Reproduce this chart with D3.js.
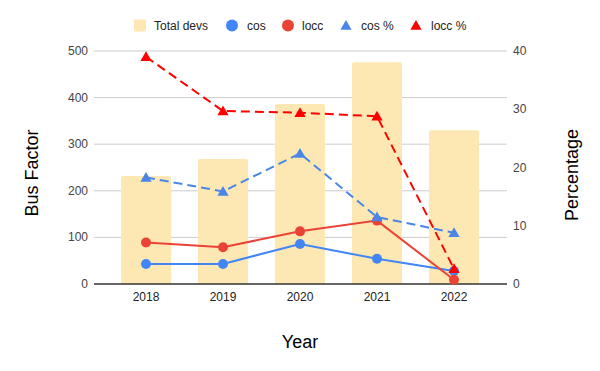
<!DOCTYPE html>
<html>
<head>
<meta charset="utf-8">
<script src="https://cdn.jsdelivr.net/npm/d3@7"></script>
<style>
  body { margin: 0; background: #fff; }
  svg { display: block; font-family: Arial, "Liberation Sans", sans-serif; }
</style>
</head>
<body>
<svg id="chart" width="600" height="371"></svg>
<script>
// ── Data ───────────────────────────────────────────────────
const years = ['2018', '2019', '2020', '2021', '2022'];
const totalDevs = [232, 268, 386, 476, 330];
const cos = [43, 43, 86, 54, 28];
const locc = [89, 79, 113, 136, 9];
const cosPct = [18.3, 15.9, 22.4, 11.5, 8.8];
const loccPct = [39.0, 29.7, 29.4, 28.8, 2.6];
const leftTicks = [0, 100, 200, 300, 400, 500];
const rightTicks = [0, 10, 20, 30, 40];

// ── Layout ─────────────────────────────────────────────────
const svg = d3.select('#chart');
const area = { left: 94, right: 507, top: 51, bottom: 284 };

const x = d3.scaleBand()
  .domain(years)
  .range([107.5, 492.5])
  .paddingInner(0.35)
  .paddingOuter(0.175);
const cx = d => x(d) + x.bandwidth() / 2;

const yL = d3.scaleLinear().domain([0, 500]).range([area.bottom, area.top]);
const yR = d3.scaleLinear().domain([0, 40]).range([area.bottom, area.top]);

// gridlines
svg.append('g')
  .selectAll('line')
  .data(leftTicks.slice(1))
  .enter().append('line')
  .attr('x1', area.left).attr('x2', area.right)
  .attr('y1', d => yL(d)).attr('y2', d => yL(d))
  .attr('stroke', '#cccccc').attr('stroke-width', 1);

// left tick labels
svg.append('g')
  .selectAll('text')
  .data(leftTicks)
  .enter().append('text')
  .attr('x', 88).attr('y', d => yL(d) + 4)
  .attr('text-anchor', 'end')
  .attr('font-size', 12).attr('fill', '#444')
  .text(d => d);

// right tick labels
svg.append('g')
  .selectAll('text')
  .data(rightTicks)
  .enter().append('text')
  .attr('x', 513).attr('y', d => yR(d) + 4)
  .attr('text-anchor', 'start')
  .attr('font-size', 12).attr('fill', '#444')
  .text(d => d);

// bars
svg.append('g')
  .selectAll('path')
  .data(totalDevs)
  .enter().append('path')
  .attr('d', (d, i) => {
    const x0 = x(years[i]), w = x.bandwidth(), y0 = yL(d), y1 = yL(0), r = 2;
    return `M${x0},${y1}V${y0 + r}Q${x0},${y0} ${x0 + r},${y0}H${x0 + w - r}Q${x0 + w},${y0} ${x0 + w},${y0 + r}V${y1}Z`;
  })
  .attr('fill', '#fde8b3');

// baseline
svg.append('line')
  .attr('x1', area.left).attr('x2', area.right)
  .attr('y1', area.bottom).attr('y2', area.bottom)
  .attr('stroke', '#333').attr('stroke-width', 1.3);

// x labels
svg.append('g')
  .selectAll('text')
  .data(years)
  .enter().append('text')
  .attr('x', d => cx(d)).attr('y', 301)
  .attr('text-anchor', 'middle')
  .attr('font-size', 12).attr('fill', '#222')
  .text(d => d);

// ── Series ─────────────────────────────────────────────────
const series = [
  { name: 'cos', values: cos, scale: yL, color: '#4285f4', dash: null, marker: 'circle' },
  { name: 'locc', values: locc, scale: yL, color: '#ea4335', dash: null, marker: 'circle' },
  { name: 'cos %', values: cosPct, scale: yR, color: '#4a86e8', dash: '9,5', marker: 'triangle' },
  { name: 'locc %', values: loccPct, scale: yR, color: '#ff0000', dash: '9,5', marker: 'triangle' }
];

const triSym = d3.symbol().type(d3.symbolTriangle).size(55);

series.forEach(s => {
  const line = d3.line()
    .x((d, i) => cx(years[i]))
    .y(d => s.scale(d));
  const g = svg.append('g');
  g.append('path')
    .datum(s.values)
    .attr('d', line)
    .attr('fill', 'none')
    .attr('stroke', s.color)
    .attr('stroke-width', 2)
    .attr('stroke-dasharray', s.dash);
  if (s.marker === 'circle') {
    g.selectAll('circle')
      .data(s.values)
      .enter().append('circle')
      .attr('cx', (d, i) => cx(years[i]))
      .attr('cy', d => s.scale(d))
      .attr('r', 5)
      .attr('fill', s.color);
  } else {
    g.selectAll('path.m')
      .data(s.values)
      .enter().append('path')
      .attr('class', 'm')
      .attr('d', triSym)
      .attr('transform', (d, i) => `translate(${cx(years[i])},${s.scale(d) + 1})`)
      .attr('fill', s.color);
  }
});

// ── Axis titles ────────────────────────────────────────────
svg.append('text')
  .attr('transform', 'translate(38,173) rotate(-90)')
  .attr('text-anchor', 'middle')
  .attr('font-size', 18).attr('fill', '#000')
  .text('Bus Factor');

svg.append('text')
  .attr('transform', 'translate(578,175) rotate(-90)')
  .attr('text-anchor', 'middle')
  .attr('font-size', 18).attr('fill', '#000')
  .text('Percentage');

svg.append('text')
  .attr('x', 300).attr('y', 348)
  .attr('text-anchor', 'middle')
  .attr('font-size', 18).attr('fill', '#000')
  .text('Year');

// ── Legend ─────────────────────────────────────────────────
const legendItems = [
  { name: 'Total devs', color: '#fde8b3', marker: 'square', mx: 140, tx: 154 },
  { name: 'cos', color: '#4285f4', marker: 'circle', mx: 232, tx: 247 },
  { name: 'locc', color: '#ea4335', marker: 'circle', mx: 288, tx: 302 },
  { name: 'cos %', color: '#4a86e8', marker: 'triangle', mx: 346, tx: 361 },
  { name: 'locc %', color: '#ff0000', marker: 'triangle', mx: 416, tx: 431 }
];
const lg = svg.append('g');
const ly = 25.5;
legendItems.forEach(it => {
  if (it.marker === 'square') {
    lg.append('rect').attr('x', it.mx - 6).attr('y', ly - 6).attr('width', 12).attr('height', 12).attr('fill', it.color);
  } else if (it.marker === 'circle') {
    lg.append('circle').attr('cx', it.mx).attr('cy', ly).attr('r', 6).attr('fill', it.color);
  } else {
    lg.append('path').attr('d', triSym).attr('transform', `translate(${it.mx},${ly + 1})`).attr('fill', it.color);
  }
  lg.append('text')
    .attr('x', it.tx).attr('y', ly + 4.5)
    .attr('font-size', 12).attr('fill', '#222')
    .text(it.name);
});
</script>
</body>
</html>
